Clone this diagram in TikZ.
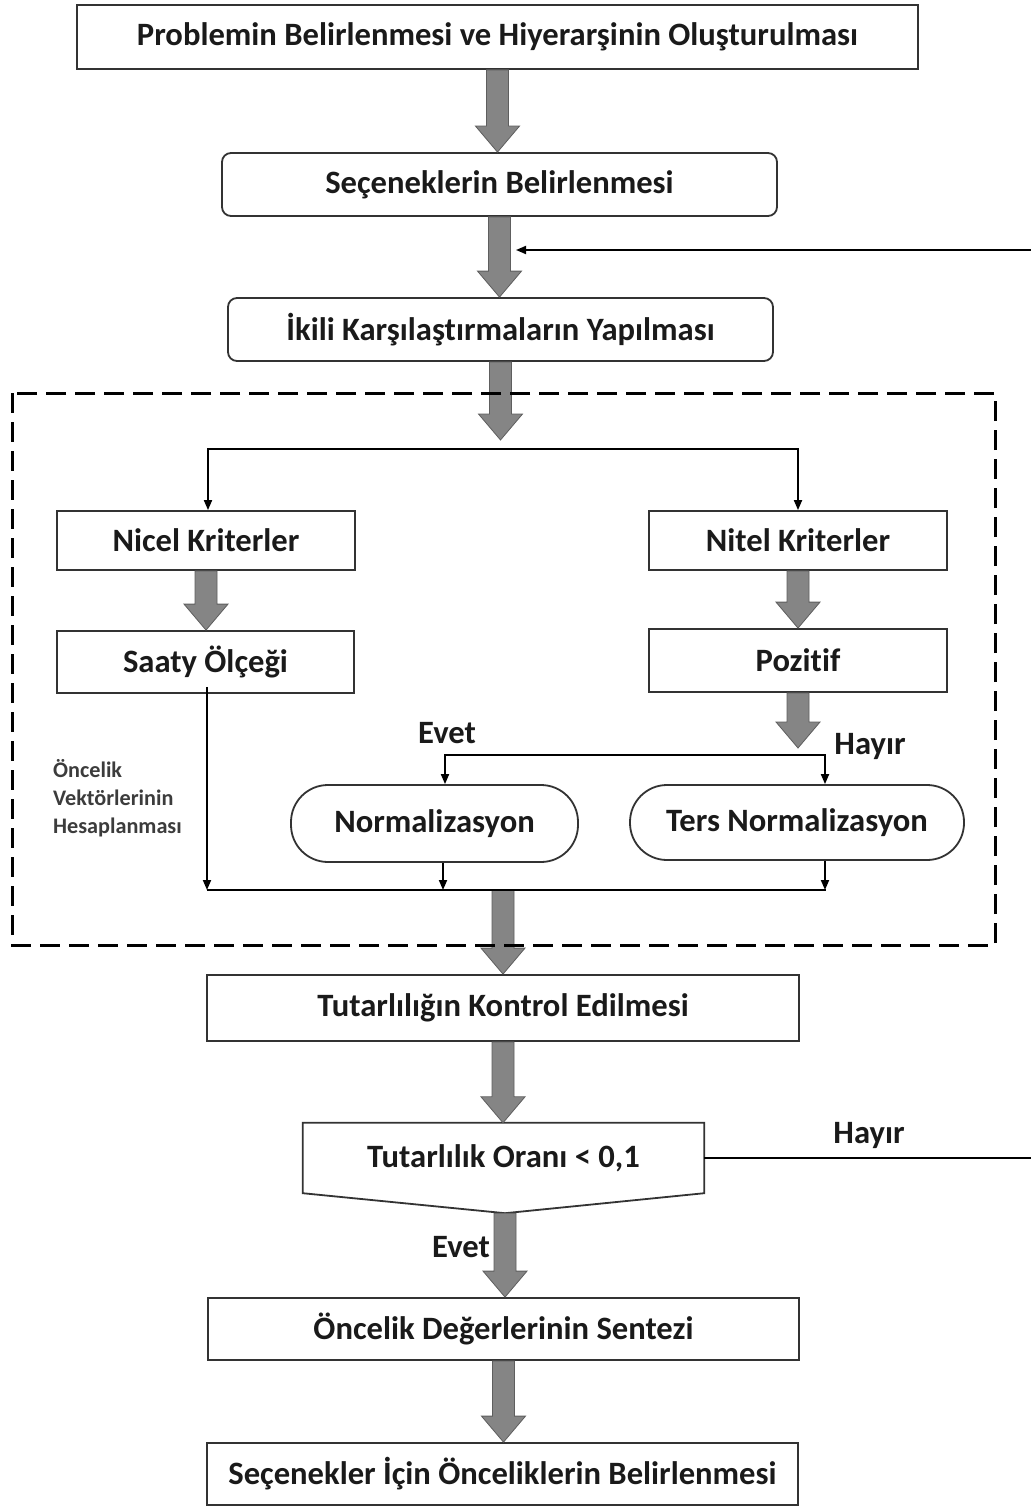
\documentclass[tikz,border=0pt]{standalone}
\usepackage{fontspec}
\setmainfont{Carlito}[Ligatures=NoCommon]
\usetikzlibrary{calc,arrows.meta}
\definecolor{txt}{HTML}{1A1A1A}
\definecolor{boxc}{HTML}{333333}
\definecolor{arrfill}{HTML}{858585}
\definecolor{arrdark}{HTML}{5E5E5E}
\newcommand\garr[2]{\path let \p1=(#1), \p2=(#2) in [garrow] (\x1-11pt,\y1) -- (\x1+11pt,\y1) -- (\x1+11pt,\y2+26pt) -- (\x1+22pt,\y2+26pt) -- (\x1,\y2) -- (\x1-22pt,\y2+26pt) -- (\x1-11pt,\y2+26pt) -- cycle;}
\begin{document}
\begin{tikzpicture}[x=1pt,y=-1pt,
  lbl/.style={font=\fontsize{32.6}{38}\selectfont\bfseries, text=txt},
  sbox/.style={lbl, draw=boxc, line width=1.8pt, fill=white, inner sep=0pt},
  rbox/.style={sbox, rounded corners=9pt},
  pill/.style={sbox, rounded corners=37pt},
  conn/.style={line width=1.8pt, draw=black, -{Triangle[length=10pt,width=8pt]}},
  plain/.style={line width=1.8pt, draw=black},
  garrow/.style={fill=arrfill, draw=arrdark, line width=0.8pt},
  dbox/.style={draw=black, line width=3pt, dash pattern=on 20pt off 9pt}]
\useasboundingbox (0,0) rectangle (1030,1506);
\fill[white] (0,0) rectangle (1030,1506);

\node[sbox, minimum width=841pt, minimum height=64pt] (p1) at (497.5,37) {Problemin Belirlenmesi ve Hiyerarşinin Oluşturulması};
\node[rbox, minimum width=555pt, minimum height=63pt] (p2) at (499.5,184.5) {Seçeneklerin Belirlenmesi};
\node[rbox, minimum width=545pt, minimum height=63pt] (p3) at (500.5,329.5) {İkili Karşılaştırmaların Yapılması};
\node[sbox, minimum width=298pt, minimum height=59pt] (nicel) at (206,540.5) {Nicel Kriterler};
\node[sbox, minimum width=297pt, minimum height=62pt] (saaty) at (205.5,662) {Saaty Ölçeği};
\node[sbox, minimum width=298pt, minimum height=59pt] (nitel) at (798,540.5) {Nitel Kriterler};
\node[sbox, minimum width=298pt, minimum height=63pt] (poz) at (798,660.5) {Pozitif};
\node[pill, minimum width=287pt, minimum height=77pt] (norm) at (434.5,823.5) {Normalizasyon};
\node[pill, minimum width=334pt, minimum height=75pt] (ters) at (797,822.5) {Ters Normalizasyon};
\node[sbox, minimum width=592pt, minimum height=66pt] (kontrol) at (503,1008) {Tutarlılığın Kontrol Edilmesi};
\node[lbl, minimum width=401pt, minimum height=70pt, inner sep=0pt] (oran) at (503.5,1158) {Tutarlılık Oranı < 0,1};
\coordinate (oranpt) at ($(oran.south)+(1.5,20)$);
\draw[draw=boxc, line width=1.8pt, line join=miter] (oran.north west) -- (oran.north east) -- (oran.south east) -- (oranpt) -- (oran.south west) -- cycle;
\node[sbox, minimum width=591pt, minimum height=62pt] (sentez) at (503.5,1329) {Öncelik Değerlerinin Sentezi};
\node[sbox, minimum width=591pt, minimum height=62pt] (son) at (502.5,1474) {Seçenekler İçin Önceliklerin Belirlenmesi};

\node[lbl] (evet1) at (447,733) {Evet};
\node[lbl] (hayir1) at (870,746) {Hayır};
\node[lbl] (evet2) at (461,1247) {Evet};
\node[lbl] (hayir2) at (869,1135) {Hayır};
\node[font=\fontsize{22.2}{28}\selectfont\bfseries, text=txt!85, align=left, anchor=north west, inner sep=0pt] (onc) at (53,759) {Öncelik\\Vektörlerinin\\Hesaplanması};

% thick arrows
\coordinate (a3end) at (503,440);
\coordinate (br) at (503,449);
\coordinate (pzend) at (798,748);
\coordinate (pzb) at (798,755);
\coordinate (j1) at (207,890);
\coordinate (j3) at (826,890);
\coordinate (jm) at (503,890);
\garr{p1.south}{p2.north}
\garr{p2.south}{p3.north}
\garr{p3.south}{a3end}
\garr{nicel.south}{saaty.north}
\garr{nitel.south}{poz.north}
\garr{poz.south}{pzend}
\garr{jm}{kontrol.north}
\garr{kontrol.south}{oran.north}
\garr{oranpt}{sentez.north}
\garr{sentez.south}{son.north}

% thin connectors
\draw[conn] (br) -| ([xshift=2pt]nicel.north);
\draw[conn] (br) -| (nitel.north);
\draw[conn] (pzb) -| ([xshift=10.5pt]norm.north);
\draw[conn] (pzb) -| ([xshift=28pt]ters.north);
\draw[conn] ([xshift=1.5pt,yshift=7pt]saaty.south) -- (j1);
\draw[plain] (j1) -- (j3);
\draw[conn] ([xshift=8.5pt]norm.south) -- ([xshift=8.5pt]norm.south |- j1);
\draw[conn] ([xshift=28pt]ters.south) -- ([xshift=28pt]ters.south |- j1);

% feedback
\coordinate (re) at (1045,1158);
\coordinate (rt) at (1045,250);
\coordinate (rin) at (516,250);
\draw[conn] (oran.east) -- (re) -- (rt) -- (rin);

% dashed group
\draw[dbox] (12,393) rectangle (995,945);
\end{tikzpicture}
\end{document}
